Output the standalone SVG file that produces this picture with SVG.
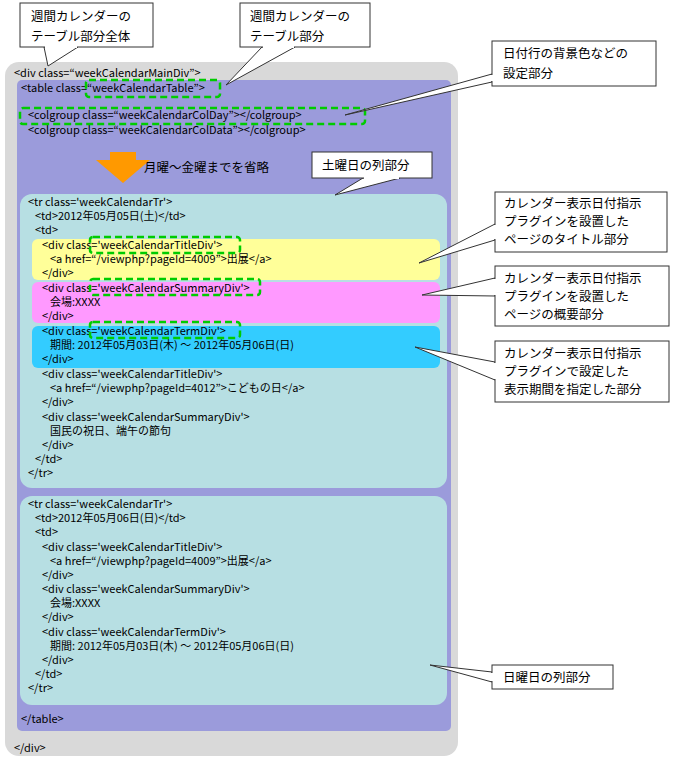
<svg xmlns="http://www.w3.org/2000/svg" width="676" height="759" viewBox="0 0 676 759">
<style>
text{font-family:"Noto Sans CJK JP","Liberation Sans",sans-serif;font-size:11px;fill:#000}
.c{font-size:12.5px}
.call{fill:#fff;stroke:#333;stroke-width:1}
.dash{fill:none;stroke:#00cc00;stroke-width:2.5;stroke-dasharray:7,4}
</style>
<rect width="676" height="759" fill="#fff"/>
<g id="outer"><rect x="5" y="62" width="453" height="694" rx="14" fill="#d9d9d9"/>
<text x="14" y="77">&lt;div class=“weekCalendarMainDiv”&gt;</text>
<text x="14" y="752">&lt;/div&gt;</text></g>
<g id="table"><rect x="17" y="80" width="434" height="651" rx="5" fill="#9b9bdb"/>
<text x="21" y="92">&lt;table class=“weekCalendarTable”&gt;</text>
<text x="28" y="119">&lt;colgroup class=“weekCalendarColDay”&gt;&lt;/colgroup&gt;</text>
<text x="28" y="134">&lt;colgroup class=“weekCalendarColData”&gt;&lt;/colgroup&gt;</text>
<polygon points="110,152 136,152 136,160 150,160 123,183 96,160 110,160" fill="#ff9900"/>
<text class="c" x="144" y="172">月曜～金曜までを省略</text>
<text x="21" y="723">&lt;/table&gt;</text></g>
<g id="sat"><rect x="20" y="194" width="427" height="294" rx="12" fill="#b7dfe3"/>
<rect x="32" y="239" width="408" height="41" rx="6" fill="#ffff99"/>
<rect x="32" y="282" width="408" height="41" rx="6" fill="#ff99ff"/>
<rect x="32" y="326" width="408" height="42" rx="6" fill="#33ccff"/>
<text x="28" y="206">&lt;tr class='weekCalendarTr'&gt;</text>
<text x="35" y="220">&lt;td&gt;2012年05月05日(土)&lt;/td&gt;</text>
<text x="35" y="234">&lt;td&gt;</text>
<text x="42" y="249">&lt;div class='weekCalendarTitleDiv'&gt;</text>
<text x="50" y="263">&lt;a href=“/viewphp?pageId=4009”&gt;出展&lt;/a&gt;</text>
<text x="42" y="277">&lt;/div&gt;</text>
<text x="42" y="292">&lt;div class='weekCalendarSummaryDiv'&gt;</text>
<text x="50" y="306">会場:XXXX</text>
<text x="42" y="320">&lt;/div&gt;</text>
<text x="42" y="335">&lt;div class='weekCalendarTermDiv'&gt;</text>
<text x="50" y="349">期間: 2012年05月03日(木) ～ 2012年05月06日(日)</text>
<text x="42" y="363">&lt;/div&gt;</text>
<text x="42" y="378">&lt;div class='weekCalendarTitleDiv'&gt;</text>
<text x="50" y="392">&lt;a href=“/viewphp?pageId=4012”&gt;こどもの日&lt;/a&gt;</text>
<text x="42" y="406">&lt;/div&gt;</text>
<text x="42" y="421">&lt;div class='weekCalendarSummaryDiv'&gt;</text>
<text x="50" y="435">国民の祝日、端午の節句</text>
<text x="42" y="449">&lt;/div&gt;</text>
<text x="35" y="463">&lt;/td&gt;</text>
<text x="28" y="477">&lt;/tr&gt;</text></g>
<g id="sun"><rect x="20" y="496" width="427" height="209" rx="12" fill="#b7dfe3"/>
<text x="28" y="508">&lt;tr class='weekCalendarTr'&gt;</text>
<text x="35" y="522">&lt;td&gt;2012年05月06日(日)&lt;/td&gt;</text>
<text x="35" y="536">&lt;td&gt;</text>
<text x="42" y="551">&lt;div class='weekCalendarTitleDiv'&gt;</text>
<text x="50" y="565">&lt;a href=“/viewphp?pageId=4009”&gt;出展&lt;/a&gt;</text>
<text x="42" y="579">&lt;/div&gt;</text>
<text x="42" y="593">&lt;div class='weekCalendarSummaryDiv'&gt;</text>
<text x="50" y="607">会場:XXXX</text>
<text x="42" y="621">&lt;/div&gt;</text>
<text x="42" y="636">&lt;div class='weekCalendarTermDiv'&gt;</text>
<text x="50" y="650">期間: 2012年05月03日(木) ～ 2012年05月06日(日)</text>
<text x="42" y="664">&lt;/div&gt;</text>
<text x="35" y="678">&lt;/td&gt;</text>
<text x="28" y="692">&lt;/tr&gt;</text></g>
<g id="highlights">
<rect class="dash" x="86" y="80" width="134" height="17" rx="3"/>
<rect class="dash" x="20" y="108" width="345" height="16" rx="3"/>
<rect class="dash" x="90" y="237" width="150" height="16" rx="3"/>
<rect class="dash" x="90" y="279" width="170" height="16" rx="3"/>
<rect class="dash" x="90" y="322" width="150" height="16" rx="3"/>
</g>
<g id="connectors">
<polygon class="call" points="44,47 48,66 78,47"/>
<polygon class="call" points="262,47 226,85 295,47"/>
<polygon class="call" points="492,74 345,115 492,82"/>
<polygon class="call" points="363,178 335,195 400,178"/>
<polygon class="call" points="495,224 419,263 495,240"/>
<polygon class="call" points="495,278 422,295 495,296"/>
<polygon class="call" points="495,362 415,347 495,380"/>
<polygon class="call" points="492,672 430,665 492,682"/>
</g>
<g id="callouts">
<rect class="call" x="20" y="3" width="133" height="44"/>
<line x1="45" y1="47" x2="77" y2="47" stroke="#fff" stroke-width="2"/>
<text class="c" x="31" y="21">週間カレンダーの</text><text class="c" x="31" y="41">テーブル部分全体</text>
<rect class="call" x="240" y="3" width="130" height="44"/>
<line x1="263" y1="47" x2="294" y2="47" stroke="#fff" stroke-width="2"/>
<text class="c" x="250" y="21">週間カレンダーの</text><text class="c" x="250" y="41">テーブル部分</text>
<rect class="call" x="492" y="41" width="164" height="45"/>
<line x1="492" y1="75" x2="492" y2="81" stroke="#fff" stroke-width="2"/>
<text class="c" x="503" y="58">日付行の背景色などの</text><text class="c" x="503" y="78">設定部分</text>
<rect class="call" x="312" y="152" width="120" height="26"/>
<line x1="364" y1="178" x2="399" y2="178" stroke="#fff" stroke-width="2"/>
<text class="c" x="322" y="170">土曜日の列部分</text>
<rect class="call" x="495" y="192" width="172" height="60"/>
<line x1="495" y1="225" x2="495" y2="239" stroke="#fff" stroke-width="2"/>
<text class="c" x="504" y="208">カレンダー表示日付指示</text><text class="c" x="504" y="226">プラグインを設置した</text><text class="c" x="504" y="244">ページのタイトル部分</text>
<rect class="call" x="495" y="266" width="174" height="60"/>
<line x1="495" y1="279" x2="495" y2="295" stroke="#fff" stroke-width="2"/>
<text class="c" x="504" y="283">カレンダー表示日付指示</text><text class="c" x="504" y="301">プラグインを設置した</text><text class="c" x="504" y="319">ページの概要部分</text>
<rect class="call" x="495" y="341" width="174" height="61"/>
<line x1="495" y1="363" x2="495" y2="379" stroke="#fff" stroke-width="2"/>
<text class="c" x="504" y="358">カレンダー表示日付指示</text><text class="c" x="504" y="376">プラグインで設定した</text><text class="c" x="504" y="394">表示期間を指定した部分</text>
<rect class="call" x="492" y="665" width="121" height="24"/>
<line x1="492" y1="673" x2="492" y2="681" stroke="#fff" stroke-width="2"/>
<text class="c" x="503" y="682">日曜日の列部分</text>
</g>
</svg>
